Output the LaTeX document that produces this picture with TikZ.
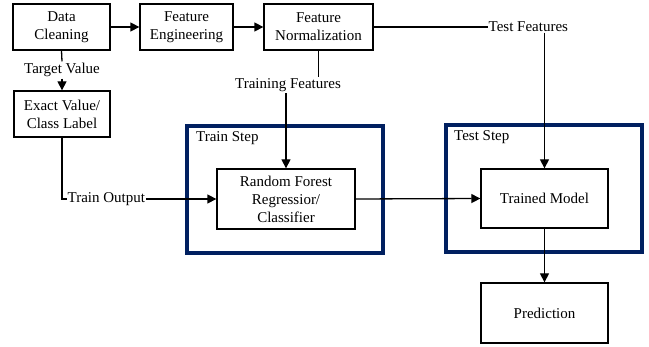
\documentclass[tikz,border=0pt]{standalone}
\usepackage{fontspec}
\setmainfont{Liberation Serif}
\usetikzlibrary{arrows.meta}
\definecolor{navy}{RGB}{0,32,96}
\begin{document}
\begin{tikzpicture}[x=1pt,y=-1pt,
  every node/.style={font=\fontsize{15}{18}\selectfont},
  box/.style={draw=black,line width=1.3pt,fill=white,align=center,inner sep=2pt},
  lbl/.style={inner sep=1.5pt,fill=none},
  stepframe/.style={draw=navy,line width=3.2pt},
  conn/.style={line width=1.3pt,draw=black},
  arr/.style={conn,-{Triangle[length=9pt,width=9pt]}}]
\useasboundingbox (0,0) rectangle (649,347);
% step frames
\draw[stepframe] (187,126) rectangle (383,253);
\draw[stepframe] (446,125) rectangle (642,252);
\node[lbl,anchor=west,inner sep=0pt] (trs) at (196,138) {Train Step};
\node[lbl,anchor=west,inner sep=0pt] (tes) at (454,137) {Test Step};
% boxes
\node[box,minimum width=97pt,minimum height=46pt] (dc) at (61.5,27) {Data\\Cleaning};
\node[box,minimum width=93pt,minimum height=46pt] (fe) at (186.5,27) {Feature\\Engineering};
\node[box,minimum width=109pt,minimum height=46pt] (fn) at (318.5,27) {Feature\\Normalization};
\node[box,minimum width=96pt,minimum height=46pt] (ev) at (62,114) {Exact Value/\\Class Label};
\node[box,minimum width=138pt,minimum height=60pt] (rf) at (286,199) {Random Forest\\Regressior/\\Classifier};
\node[box,minimum width=127pt,minimum height=59pt] (tm) at (544.5,198.5) {Trained Model};
\node[box,minimum width=127pt,minimum height=60pt] (pr) at (544.5,313) {Prediction};
% labels
\node[lbl] (tv) at (62,70) {Target Value};
\node[lbl,anchor=west,inner sep=0.5pt] (to) at (67,199) {Train Output};
\node[lbl] (trf) at (288,85) {Training Features};
\node[lbl,anchor=west,inner sep=0.5pt] (tef) at (488,27) {Test Features};
% connectors
\draw[arr] (dc) -- (fe);
\draw[arr] (fe) -- (fn);
\draw[conn] (dc.south) -- (tv.north);
\draw[arr] (tv.south) -- (ev.north);
\draw[conn] (ev.south) |- (to.west);
\draw[arr] (to.east) -- (rf.west);
\draw[conn] (fn.south) -- (fn.south |- trf.north);
\draw[arr] (trf.south -| rf.north) -- (rf.north);
\draw[conn] (fn.east) -- (tef.west);
\draw[arr] (tef.south -| tm.north) -- (tm.north);
\draw[arr] (rf.east) -- (tm.west);
\draw[arr] (tm.south) -- (pr.north);
\end{tikzpicture}
\end{document}
